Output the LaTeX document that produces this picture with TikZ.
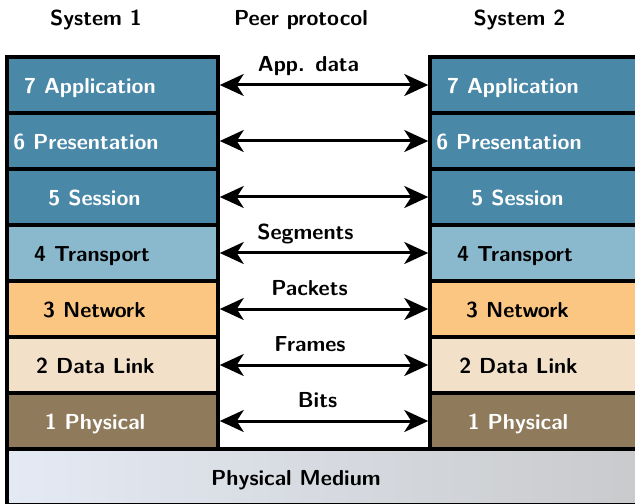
\documentclass[tikz,border=0pt]{standalone}
\usetikzlibrary{arrows.meta,positioning}
\definecolor{upperBlue}{HTML}{4A88A8}
\definecolor{transBlue}{HTML}{8AB8CD}
\definecolor{netOrange}{HTML}{FBC582}
\definecolor{linkBeige}{HTML}{F2E0C9}
\definecolor{physBrown}{HTML}{8F7B5C}
\definecolor{mediumL}{HTML}{E4EAF4}
\definecolor{mediumR}{HTML}{C9CACC}
\tikzset{
  lt/.style   ={font=\sffamily\bfseries\fontsize{10.85}{13}\selectfont,
                text height=8.5pt,text depth=0pt},
  lay/.style n args={4}{draw,line width=1.75pt,outer sep=0pt,inner sep=0pt,
                minimum width=105.5pt,minimum height=28pt,fill=#1,
                label={[lt,text=#2,xshift=#3]center:#4}},
  head/.style ={lt,anchor=base},
  pl/.style   ={lt,anchor=base,yshift=6.75pt},
  ar/.style   ={{Stealth[length=12pt,width=11pt,inset=3.5pt]}-{Stealth[length=12pt,width=11pt,inset=3.5pt]},
                line width=1.5pt,shorten >=0.875pt,shorten <=0.875pt},
}

\begin{document}
\begin{tikzpicture}[x=0.5pt,y=0.5pt]
\useasboundingbox (0,0) rectangle (635,503);
\node[head] (S1) at (96,477) {System 1};
\node[head] (PP) at (301,477) {Peer protocol};
\node[head] (S2) at (519.5,477) {System 2};
% left stack
\node[lay={upperBlue}{white}{-11.25pt}{7 Application}] (L7) at (112.5,418) {};
\node[lay={upperBlue}{white}{-13.25pt}{6 Presentation},below=0pt of L7] (L6) {};
\node[lay={upperBlue}{white}{-9pt}{5 Session},below=0pt of L6] (L5) {};
\node[lay={transBlue}{black}{-10.25pt}{4 Transport},below=0pt of L5] (L4) {};
\node[lay={netOrange}{black}{-9pt}{3 Network},below=0pt of L4] (L3) {};
\node[lay={linkBeige}{black}{-8.5pt}{2 Data Link},below=0pt of L3] (L2) {};
\node[lay={physBrown}{white}{-8.75pt}{1 Physical},below=0pt of L2] (L1) {};
% right stack
\node[lay={upperBlue}{white}{-11.25pt}{7 Application},right=106pt of L7] (R7) {};
\node[lay={upperBlue}{white}{-13.25pt}{6 Presentation},below=0pt of R7] (R6) {};
\node[lay={upperBlue}{white}{-9pt}{5 Session},below=0pt of R6] (R5) {};
\node[lay={transBlue}{black}{-10.25pt}{4 Transport},below=0pt of R5] (R4) {};
\node[lay={netOrange}{black}{-9pt}{3 Network},below=0pt of R4] (R3) {};
\node[lay={linkBeige}{black}{-8.5pt}{2 Data Link},below=0pt of R3] (R2) {};
\node[lay={physBrown}{white}{-8.75pt}{1 Physical},below=0pt of R2] (R1) {};
% medium
\node[draw,line width=1.75pt,outer sep=0pt,inner sep=0pt,minimum width=317pt,
      minimum height=28pt,left color=mediumL,right color=mediumR,
      below=0pt of L1.south west,anchor=north west,
      label={[lt,xshift=-14pt]center:Physical Medium}] (PM) {};
% peer arrows
\draw[ar] (L7) -- node[pl,xshift=-7.75pt] (P7) {App. data} (R7);
\draw[ar] (L6) -- (R6);
\draw[ar] (L5) -- (R5);
\draw[ar] (L4) -- node[pl,xshift=-9.25pt] (P4) {Segments} (R4);
\draw[ar] (L3) -- node[pl,xshift=-7.25pt] (P3) {Packets} (R3);
\draw[ar] (L2) -- node[pl,xshift=-7pt] (P2) {Frames} (R2);
\draw[ar] (L1) -- node[pl,xshift=-3.25pt] (P1) {Bits} (R1);
\end{tikzpicture}
\end{document}
